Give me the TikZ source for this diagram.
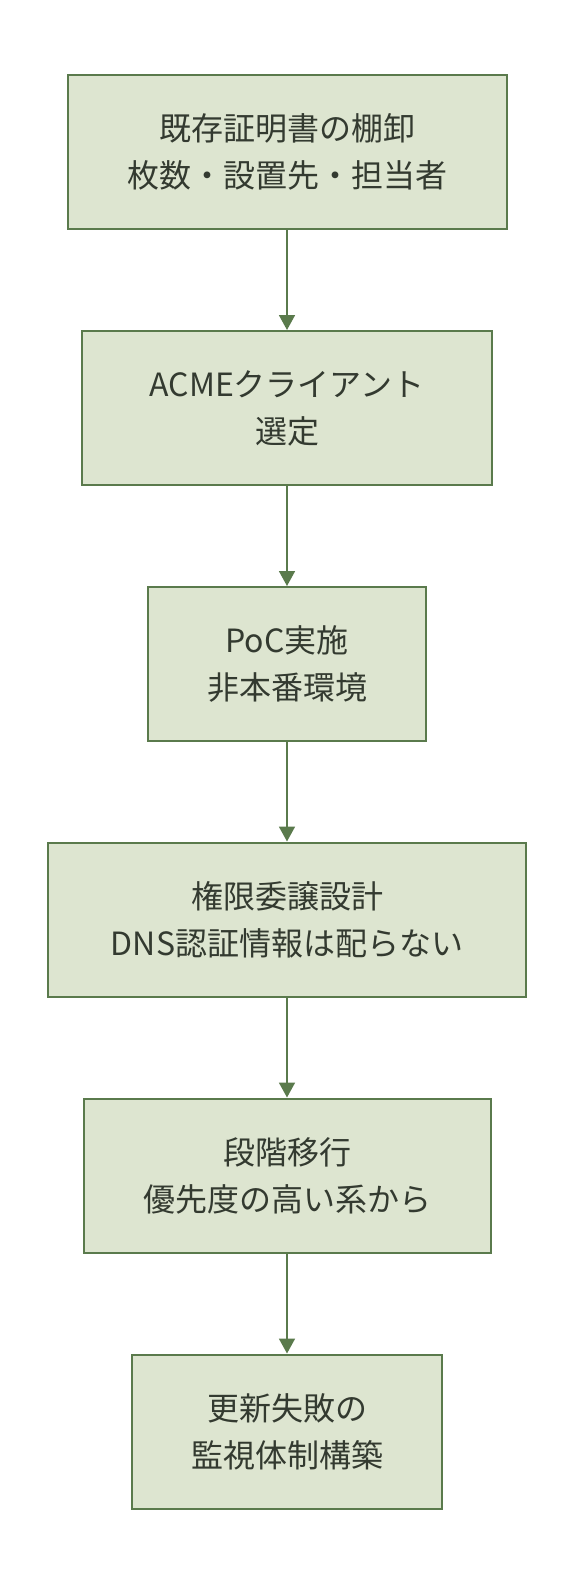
\documentclass[tikz,border=0pt]{standalone}
\usepackage{fontspec}
\usepackage{tikz}
\usetikzlibrary{arrows.meta}
\newfontfamily\jpfont{Noto Sans CJK JP}
\definecolor{boxfill}{HTML}{DDE5D0}
\definecolor{boxline}{HTML}{5A7A4C}
\definecolor{boxtext}{HTML}{333A30}
\tikzset{
    stepbox/.style = {draw = boxline, fill = boxfill, line width = 2pt,
        minimum height = 154pt, inner xsep = 10pt, align = center,
        text = boxtext, font = \jpfont\fontsize{32}{47}\selectfont},
    flow/.style = {draw = boxline, line width = 1.8pt,
        -{Triangle[length = 15pt, width = 16pt]}}
}

\begin{document}
\begin{tikzpicture}[x = 1pt, y = -1pt]
                    \useasboundingbox (0, 0) rectangle (574, 1588);
                    \node[stepbox, minimum width = 439pt] (inventory) at (287, 152) {既存証明書の棚卸\\枚数・設置先・担当者};
                    \node[stepbox, minimum width = 410pt] (client) at (287, 408) {ACMEクライアント\\選定};
                    \node[stepbox, minimum width = 278pt] (poc) at (287, 664) {PoC実施\\非本番環境};
                    \node[stepbox, minimum width = 478pt] (delegation) at (287, 919.5) {権限委譲設計\\DNS認証情報は配らない};
                    \node[stepbox, minimum width = 407pt] (migration) at (287, 1175.5) {段階移行\\優先度の高い系から};
                    \node[stepbox, minimum width = 310pt] (monitoring) at (287, 1431.5) {更新失敗の\\監視体制構築};

                    \draw[flow] (inventory) -- (client);
                    \draw[flow] (client) -- (poc);
                    \draw[flow] (poc) -- (delegation);
                    \draw[flow] (delegation) -- (migration);
                    \draw[flow] (migration) -- (monitoring);
                \end{tikzpicture}
\end{document}
